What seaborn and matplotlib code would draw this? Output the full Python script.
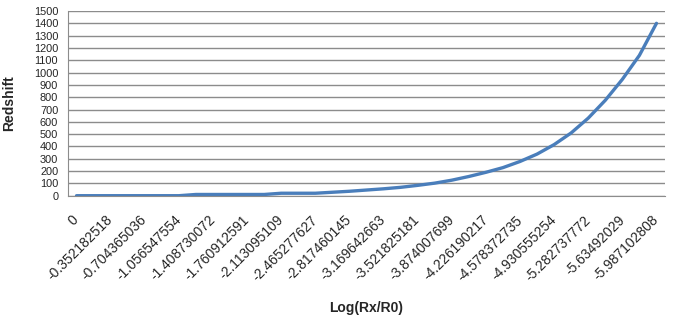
import pandas as pd
import numpy as np
import matplotlib
matplotlib.use("Agg")
import matplotlib.pyplot as plt
import seaborn as sns

# Categories on the x axis (Log(Rx/R0)), one every 0.176 step
log_ratio = ["0", "-0.176091259", "-0.352182518", "-0.528273777", "-0.704365036",
             "-0.880456295", "-1.056547554", "-1.232638813", "-1.408730072",
             "-1.584821331", "-1.760912591", "-1.93700385", "-2.113095109",
             "-2.289186368", "-2.465277627", "-2.641368886", "-2.817460145",
             "-2.993551404", "-3.169642663", "-3.345733922", "-3.521825181",
             "-3.69791644", "-3.874007699", "-4.050098958", "-4.226190217",
             "-4.402281476", "-4.578372735", "-4.754463994", "-4.930555254",
             "-5.106646513", "-5.282737772", "-5.458829031", "-5.63492029",
             "-5.811011549", "-5.987102808"]

# Redshift values
redshift = [0, 0, 0, 0, 0, 0, 0, 10, 10, 10, 10, 10, 20, 20, 20,
            28, 36, 46, 56, 68, 84, 102, 126, 156, 190, 228, 278, 338,
            415, 510, 630, 775, 945, 1140, 1400]

df = pd.DataFrame({"log_ratio": log_ratio, "redshift": redshift})

sns.set_style("white")
plt.rcParams['font.family'] = ['Liberation Sans', 'DejaVu Sans']

fig = plt.figure(figsize=(6.73, 3.18), dpi=100)
ax = fig.add_axes([68 / 673, 1 - 195.7 / 318, (665 - 68) / 673, (195.7 - 11) / 318])

sns.lineplot(data=df, x="log_ratio", y="redshift", sort=False,
             color="#4A7EBB", linewidth=2.4, ax=ax)

ax.set_xlim(-0.5, len(log_ratio) - 0.5)
ax.set_ylim(0, 1500)
ax.set_yticks(range(0, 1501, 100))
ax.yaxis.grid(True, color="#8C8C8C", linewidth=1)
ax.set_axisbelow(True)

# labels on every other category, tick marks between categories
ax.set_xticks(range(0, len(log_ratio), 2))
ax.set_xticklabels(log_ratio[::2], rotation=45, ha="right", va="center",
                   rotation_mode="anchor")
ax.set_xticks(np.arange(-0.5, len(log_ratio), 1), minor=True)
ax.tick_params(axis="x", which="major", length=0, pad=16, labelsize=10)
ax.tick_params(axis="x", which="minor", length=4, color="#8C8C8C", direction="out")
ax.tick_params(axis="y", length=4, color="#8C8C8C", direction="out", pad=3, labelsize=7.9)

for side in ["top", "right"]:
    ax.spines[side].set_visible(False)
for side in ["left", "bottom"]:
    ax.spines[side].set_color("#8C8C8C")

ax.set_xlabel("Log(Rx/R0)", fontweight="bold", fontsize=10)
ax.set_ylabel("Redshift", fontweight="bold", fontsize=10)
ax.xaxis.set_label_coords(0.5, -0.57)
ax.yaxis.set_label_coords(-0.087, 0.5)

plt.savefig("out.png", dpi=100)
